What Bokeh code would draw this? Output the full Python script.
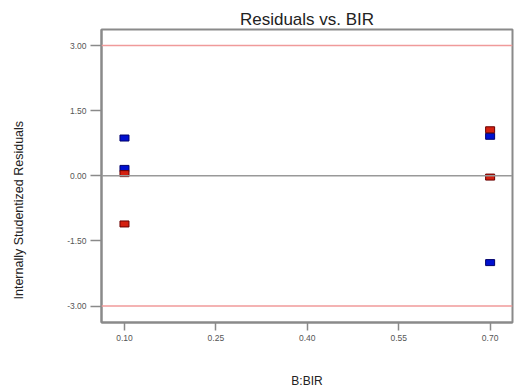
from bokeh.plotting import figure
from bokeh.models import FixedTicker, NumeralTickFormatter, Span, Range1d, Title
from bokeh.embed import file_html
from bokeh.resources import INLINE

# Data
blue_x = [0.10, 0.10, 0.70, 0.70]
blue_y = [0.87, 0.17, 0.91, -2.00]
red_x = [0.10, 0.10, 0.70, 0.70]
red_y = [0.05, -1.11, 1.06, -0.03]
x_ticks = [0.10, 0.25, 0.40, 0.55, 0.70]
y_ticks = [-3.0, -1.5, 0.0, 1.5, 3.0]
limits = [-3.0, 3.0]

FONT = "Liberation Sans"

p = figure(width=514, height=390, output_backend="svg", toolbar_location=None,
           x_range=Range1d(0.0623, 0.7367), y_range=Range1d(-3.38, 3.37),
           title="Residuals vs. BIR", x_axis_label="B:BIR")
p.min_border_left = 100
p.min_border_right = 2
p.min_border_top = 29
p.min_border_bottom = 67

p.title.align = "center"
p.title.text_font = FONT
p.title.text_font_size = "17px"
p.title.text_font_style = "normal"
p.title.text_color = "#222222"
p.title.standoff = 2

p.grid.visible = False
p.outline_line_color = "#8a8a8a"
p.outline_line_width = 2

for ax in (p.xaxis[0], p.yaxis[0]):
    ax.axis_line_color = "#8a8a8a"
    ax.axis_line_width = 2
    ax.major_tick_line_color = "#8a8a8a"
    ax.major_tick_line_width = 1.5
    ax.major_tick_in = 0
    ax.minor_tick_line_color = None
    ax.major_label_text_font = FONT
    ax.major_label_text_font_size = "8.5px"
    ax.major_label_text_color = "#555555"
    ax.axis_label_text_font = FONT
    ax.axis_label_text_font_size = "12px"
    ax.axis_label_text_font_style = "normal"
    ax.axis_label_text_color = "#222222"
    ax.formatter = NumeralTickFormatter(format="0.00")

p.xaxis[0].ticker = FixedTicker(ticks=x_ticks)
p.yaxis[0].ticker = FixedTicker(ticks=y_ticks)
p.xaxis[0].major_tick_out = 8
p.yaxis[0].major_tick_out = 11
p.xaxis[0].major_label_standoff = 4
p.yaxis[0].major_label_standoff = 4
p.xaxis[0].axis_label_standoff = 30

# blank spacer label widens the y-axis panel so the title below sits further left
p.yaxis[0].axis_label = " "
p.yaxis[0].axis_label_text_font_size = "10px"
p.yaxis[0].axis_label_text_alpha = 0
p.yaxis[0].axis_label_standoff = 12

ytitle = Title(text="Internally Studentized Residuals", align="left", offset=23,
               vertical_align="top",
               text_font=FONT, text_font_size="12.5px", text_font_style="normal",
               text_color="#222222", standoff=22)
p.add_layout(ytitle, "left")

for v in limits:
    p.add_layout(Span(location=v, dimension="width", line_color="#f09a9a", line_width=1.5))
p.add_layout(Span(location=0, dimension="width", line_color="#999999", line_width=1.5))

p.rect(x=blue_x, y=blue_y, width=9, height=6, width_units="screen", height_units="screen",
       fill_color="#0010d0", line_color="#00006a", line_width=1)
p.rect(x=red_x, y=red_y, width=9, height=6, width_units="screen", height_units="screen",
       fill_color="#d42010", line_color="#6a0000", line_width=1)

open("out.html", "w").write(file_html(p, INLINE))
